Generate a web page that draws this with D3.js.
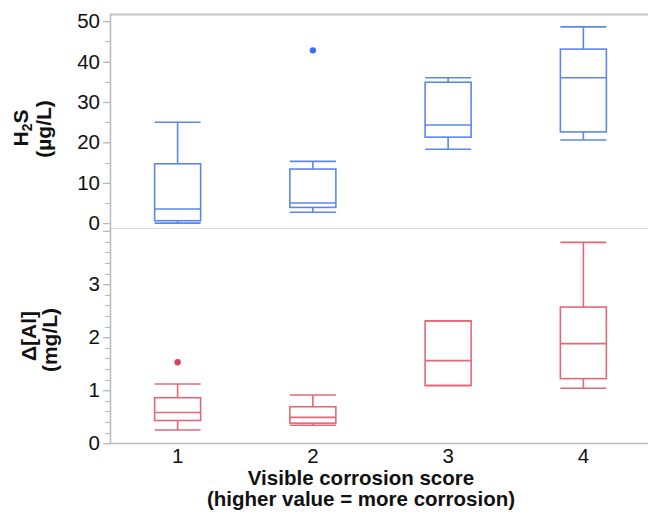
<!DOCTYPE html>
<html>
<head>
<meta charset="utf-8">
<script src="https://cdn.jsdelivr.net/npm/d3@7/dist/d3.min.js"></script>
<style>
  html, body { margin: 0; padding: 0; background: #fff; }
  svg { display: block; font-family: "Liberation Sans", Arial, Helvetica, sans-serif; }
</style>
</head>
<body>
<svg id="chart" width="648" height="523"></svg>
<script>
// Corrosion score groups
const categories = ["1", "2", "3", "4"];

// H2S (µg/L) box statistics per score: [low whisker, Q1, median, Q3, high whisker]
const h2sStats = [
  [0.0, 0.6, 3.5, 14.7, 25.0],
  [2.7, 3.9, 5.0, 13.4, 15.3],
  [18.3, 21.3, 24.3, 34.9, 36.0],
  [20.6, 22.6, 36.0, 43.1, 48.6]
];
const h2sOutliers = [[], [42.8], [], []];

// Δ[Al] (mg/L) box statistics per score
const alStats = [
  [0.25, 0.43, 0.58, 0.86, 1.12],
  [0.34, 0.38, 0.49, 0.69, 0.91],
  [1.09, 1.09, 1.56, 2.31, 2.31],
  [1.04, 1.22, 1.88, 2.57, 3.79]
];
const alOutliers = [[1.53], [], [], []];

const h2sTicks = [0, 10, 20, 30, 40, 50];
const alTicks = [0, 1, 2, 3];

const svg = d3.select("#chart");
const left = 110, right = 651;
const x = d3.scaleBand().domain(categories).range([left, right]).paddingInner(0).paddingOuter(0);
const boxW = 46;
const tickFont = 20.5;

const panels = [
  {
    stats: h2sStats, outliers: h2sOutliers,
    y: d3.scaleLinear().domain([-1.2, 51.8]).range([228, 14]),
    ticks: h2sTicks, minor: d3.range(0, 51, 5),
    stroke: "#5b87ea", dot: "#3b6ff0",
    top: 14, bottom: 228
  },
  {
    stats: alStats, outliers: alOutliers,
    y: d3.scaleLinear().domain([0, 4.062]).range([443.3, 228]),
    ticks: alTicks, minor: d3.range(0, 4.01, 0.2),
    stroke: "#e26878", dot: "#e0405a",
    top: 228, bottom: 443.3
  }
];

const gridColor = "#b9b9b9";

// frame lines: top border and panel separator
svg.append("line").attr("x1", left).attr("x2", 648).attr("y1", 14.5).attr("y2", 14.5)
  .attr("stroke", "#c4c4c4").attr("stroke-width", 2);
svg.append("line").attr("x1", left).attr("x2", 648).attr("y1", 228.5).attr("y2", 228.5)
  .attr("stroke", "#dcdcdc").attr("stroke-width", 1);

panels.forEach((p, pi) => {
  const g = svg.append("g");
  const clip = "clip" + pi;
  svg.append("clipPath").attr("id", clip)
    .append("rect").attr("x", left).attr("y", p.top - 4).attr("width", 648 - left).attr("height", p.bottom - p.top + 8);

  // minor ticks
  g.selectAll(".minor").data(p.minor).join("line")
    .attr("x1", left - 5).attr("x2", left)
    .attr("y1", d => Math.round(p.y(d)) + 0.5).attr("y2", d => Math.round(p.y(d)) + 0.5)
    .attr("stroke", gridColor).attr("stroke-width", 1);

  // major ticks via d3 axis
  const axis = d3.axisLeft(p.y).tickValues(p.ticks).tickSize(7).tickPadding(3).tickFormat(d3.format("d"));
  const ag = g.append("g").attr("transform", `translate(${left},0)`).call(axis);
  ag.select(".domain").remove();
  ag.selectAll(".tick line").attr("stroke", gridColor).attr("stroke-width", 1.2);
  ag.selectAll(".tick text").attr("font-size", tickFont).attr("fill", "#111")
    .attr("font-family", "'Liberation Sans', Arial, sans-serif");

  if (pi === 1) {
    // tick at 4 without label
    g.append("line").attr("x1", left - 7).attr("x2", left)
      .attr("y1", p.y(4)).attr("y2", p.y(4)).attr("stroke", gridColor).attr("stroke-width", 1.2);
  }

  // left axis line
  g.append("line").attr("x1", left + 0.5).attr("x2", left + 0.5)
    .attr("y1", p.top).attr("y2", p.bottom)
    .attr("stroke", gridColor).attr("stroke-width", 1.5);

  const boxes = g.append("g").attr("clip-path", `url(#${clip})`);
  categories.forEach((c, i) => {
    const [lo, q1, med, q3, hi] = p.stats[i];
    const cx = x(c) + x.bandwidth() / 2;
    const bg = boxes.append("g").attr("stroke", p.stroke).attr("stroke-width", 1.6).attr("fill", "none");
    // whiskers
    bg.append("line").attr("x1", cx).attr("x2", cx).attr("y1", p.y(hi)).attr("y2", p.y(q3));
    bg.append("line").attr("x1", cx).attr("x2", cx).attr("y1", p.y(q1)).attr("y2", p.y(lo));
    bg.append("line").attr("x1", cx - boxW / 2).attr("x2", cx + boxW / 2).attr("y1", p.y(hi)).attr("y2", p.y(hi));
    bg.append("line").attr("x1", cx - boxW / 2).attr("x2", cx + boxW / 2).attr("y1", p.y(lo)).attr("y2", p.y(lo));
    // box
    bg.append("rect").attr("x", cx - boxW / 2).attr("width", boxW)
      .attr("y", p.y(q3)).attr("height", p.y(q1) - p.y(q3));
    // median
    bg.append("line").attr("x1", cx - boxW / 2).attr("x2", cx + boxW / 2).attr("y1", p.y(med)).attr("y2", p.y(med));
    // outliers
    boxes.selectAll(null).data(p.outliers[i]).join("circle")
      .attr("cx", cx).attr("cy", d => p.y(d)).attr("r", 3.2).attr("fill", p.dot);
  });
});

// x axis
svg.append("line").attr("x1", left).attr("x2", 648).attr("y1", 443.5).attr("y2", 443.5)
  .attr("stroke", gridColor).attr("stroke-width", 1.5);
const xAxis = d3.axisBottom(x).tickSize(0).tickPadding(5);
const xa = svg.append("g").attr("transform", "translate(0,443.5)").call(xAxis);
xa.select(".domain").remove();
xa.selectAll(".tick text").attr("font-size", tickFont).attr("fill", "#111")
  .attr("font-family", "'Liberation Sans', Arial, sans-serif");

// axis titles
const titleSize = 20.5;
svg.append("text").attr("x", 361).attr("y", 485).attr("text-anchor", "middle")
  .attr("font-size", titleSize).attr("font-weight", "bold").attr("fill", "#111")
  .text("Visible corrosion score");
svg.append("text").attr("x", 361).attr("y", 506).attr("text-anchor", "middle")
  .attr("font-size", titleSize).attr("font-weight", "bold").attr("fill", "#111")
  .text("(higher value = more corrosion)");

// y titles
const ySize = 21;
const t1 = svg.append("text").attr("transform", "translate(28,128) rotate(-90)")
  .attr("text-anchor", "middle").attr("font-size", ySize).attr("font-weight", "bold").attr("fill", "#111");
t1.append("tspan").text("H");
t1.append("tspan").attr("font-size", 14).attr("dy", 4).text("2");
t1.append("tspan").attr("dy", -4).text("S");
svg.append("text").attr("transform", "translate(51,129) rotate(-90)")
  .attr("text-anchor", "middle").attr("font-size", ySize).attr("font-weight", "bold").attr("fill", "#111")
  .text("(µg/L)");

svg.append("text").attr("transform", "translate(36,336) rotate(-90)")
  .attr("text-anchor", "middle").attr("font-size", ySize).attr("font-weight", "bold").attr("fill", "#111")
  .text("Δ[Al]");
svg.append("text").attr("transform", "translate(57,340) rotate(-90)")
  .attr("text-anchor", "middle").attr("font-size", ySize).attr("font-weight", "bold").attr("fill", "#111")
  .text("(mg/L)");
</script>
</body>
</html>
